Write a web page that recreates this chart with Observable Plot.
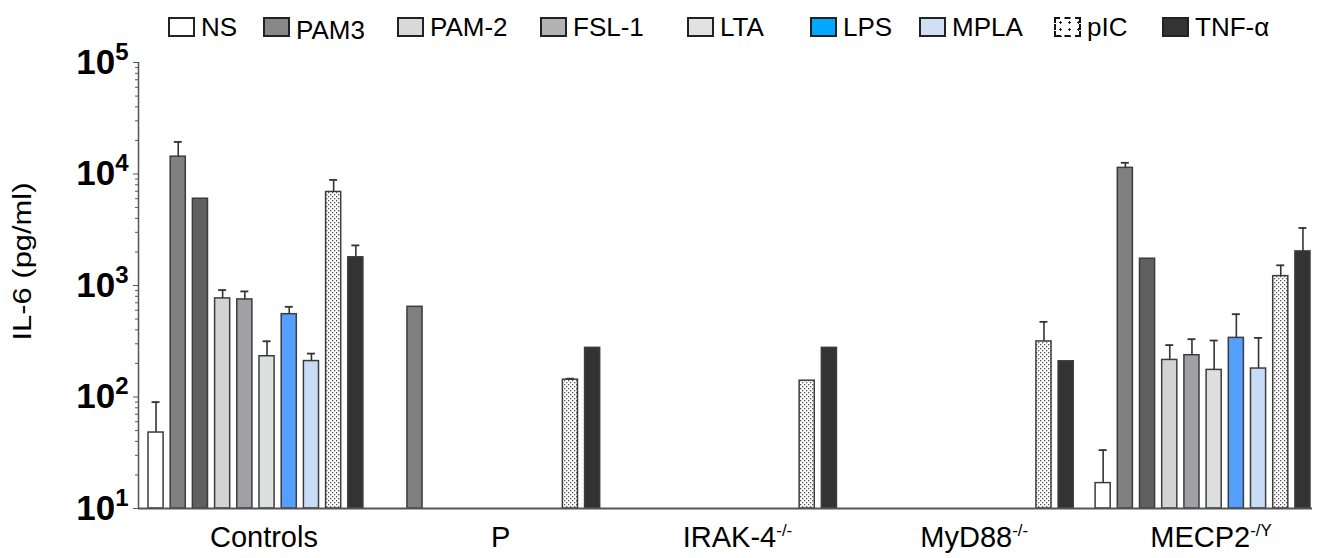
<!DOCTYPE html>
<html><head><meta charset="utf-8">
<script src="https://cdn.jsdelivr.net/npm/d3@7"></script>
<script src="https://cdn.jsdelivr.net/npm/@observablehq/plot@0.6"></script>
<style>
html,body{margin:0;padding:0;background:#fff;}
body{width:1326px;height:558px;overflow:hidden;font-family:"Liberation Sans",Arial,sans-serif;}
#legend{position:relative;height:32px;width:1326px;z-index:1;}
.sw{position:absolute;top:17px;width:27px;height:20px;box-sizing:border-box;border:2px solid #222;}
.lab{position:absolute;top:13px;font-size:26px;line-height:28px;color:#000;white-space:nowrap;}
#chart svg{display:block;}
</style></head>
<body>
<div id="legend"></div>
<div id="chart"></div>
<script>
// ---------- data ----------
const groups = ["Controls", "P", "IRAK-4^-/-", "MyD88^-/-", "MECP2^-/Y"];
const series = ["NS", "PAM3", "(unlabelled)", "PAM-2", "FSL-1", "LTA", "LPS", "MPLA", "pIC", "TNF-α"];
const legendSeries = ["NS", "PAM3", "PAM-2", "FSL-1", "LTA", "LPS", "MPLA", "pIC", "TNF-α"];

const controlsMean = [48, 14300, 6000, 766, 750, 232, 553, 210, 6900, 1790];
const controlsErr  = [90, 19400, null, 910, 885, 316, 644, 245, 8850, 2290];
const pMean        = [null, 644, null, null, null, null, null, null, 143, 276];
const pErr         = [null, null, null, null, null, null, null, null, 146, null];
const irakMean     = [null, null, null, null, null, null, null, null, 140, 276];
const irakErr      = [null, null, null, null, null, null, null, null, null, null];
const myd88Mean    = [null, null, null, null, null, null, null, null, 315, 209];
const myd88Err     = [null, null, null, null, null, null, null, null, 472, null];
const mecp2Mean    = [16.9, 11350, 1738, 215, 237, 175, 339, 180, 1213, 2022];
const mecp2Err     = [33.4, 12600, null, 292, 330, 321, 553, 339, 1517, 3280];

const yTicks = [10, 100, 1000, 10000, 100000];
const yLabel = "IL-6 (pg/ml)";

// ---------- styling / layout ----------
const barFill = {
  "NS": "#ffffff", "PAM3": "#808080", "(unlabelled)": "#606060", "PAM-2": "#d3d3d3",
  "FSL-1": "#a1a1a5", "LTA": "#dde0df", "LPS": "#55a0ff", "MPLA": "#c8dcf8",
  "pIC": "url(#dots)", "TNF-α": "#333333"
};
const legendFill = {
  "NS": "#ffffff", "PAM3": "#888888", "PAM-2": "#d9d9d9", "FSL-1": "#b3b3b3",
  "LTA": "#e2e2e2", "LPS": "#00a8ff", "MPLA": "#cfe0f2", "pIC": "#ffffff", "TNF-α": "#333333"
};
const legendLeft = [168, 263, 397, 540, 687, 810, 919, 1054, 1162];
const stride = 10.665, barW = 0.68;

const means = [controlsMean, pMean, irakMean, myd88Mean, mecp2Mean];
const errs = [controlsErr, pErr, irakErr, myd88Err, mecp2Err];
const rows = [];
groups.forEach((g, gi) => series.forEach((s, si) => {
  const m = means[gi][si];
  if (m != null) rows.push({group: g, series: s, gi, si, mean: m, err: errs[gi][si]});
}));
const slot = d => d.gi * stride + d.si;
const errRows = rows.filter(d => d.err != null);
const groupCenters = groups.map((g, i) => i * stride + (series.length - 1 + barW) / 2);
const minorTicks = [];
for (let e = 1; e < 5; e++) for (let k = 2; k <= 9; k++) minorTicks.push(k * 10 ** e);

// ---------- legend ----------
const leg = d3.select("#legend");
legendSeries.forEach((s, i) => {
  const sw = leg.append("div").attr("class", "sw")
    .style("left", legendLeft[i] + "px")
    .style("background", legendFill[s]);
  if (s === "pIC") {
    sw.style("border", "2px dashed #111")
      .style("background", "radial-gradient(circle, #222 1px, transparent 1.4px) 0 0/9px 7px, #fff");
  }
  leg.append("div").attr("class", "lab")
    .style("left", (legendLeft[i] + 33) + "px")
    .style("top", s === "PAM3" ? "16px" : "13px")
    .text(s);
});

// ---------- chart ----------
const svg = Plot.plot({
  width: 1326, height: 526,
  marginTop: 30, marginBottom: 50, marginLeft: 138, marginRight: 14,
  style: {fontFamily: "'Liberation Sans', Arial, sans-serif", color: "#000", background: "transparent"},
  x: {domain: [-0.45, 52.43], axis: null},
  y: {type: "log", domain: [10, 1e5], axis: null},
  color: {domain: series, range: series.map(s => barFill[s])},
  marks: [
    Plot.rect(rows, {x1: d => slot(d), x2: d => slot(d) + barW, y1: 10, y2: "mean",
      fill: "series", stroke: "#3c3c3c", strokeWidth: 1.5}),
    Plot.ruleX(errRows, {x: d => slot(d) + barW / 2, y1: "mean", y2: "err", stroke: "#333", strokeWidth: 1.6}),
    Plot.ruleY(errRows, {y: "err", x1: d => slot(d) + barW / 2 - 0.18, x2: d => slot(d) + barW / 2 + 0.18,
      stroke: "#333", strokeWidth: 1.8}),
    Plot.axisY(minorTicks, {tickSize: 3, tickFormat: () => "", stroke: "#555", label: null}),
    Plot.axisY(yTicks, {tickSize: 5, tickPadding: 5, stroke: "#555", label: null,
      tickFormat: d => "10^" + Math.round(Math.log10(d)), fontSize: 35, fontWeight: "bold"}),
    Plot.ruleX([-0.45], {stroke: "#555", strokeWidth: 1.5}),
    Plot.ruleY([10], {stroke: "#555", strokeWidth: 2}),
    Plot.axisX(groupCenters, {tickSize: 0, tickPadding: 18, label: null, fontSize: 29, dx: 8,
      tickFormat: d => groups[Math.round((d - groupCenters[0]) / stride)]}),
    Plot.text([yLabel], {frameAnchor: "left", dx: -116, dy: 55, rotate: -90, fontSize: 25,
      textAnchor: "start", text: d => d})
  ]
});
svg.style.marginTop = "0px";

// pattern for pIC bars
const defs = d3.select(svg).insert("defs", ":first-child");
const pat = defs.append("pattern").attr("id", "dots").attr("width", 4).attr("height", 4)
  .attr("patternUnits", "userSpaceOnUse");
pat.append("rect").attr("width", 4).attr("height", 4).attr("fill", "#fff");
pat.append("rect").attr("x", 0).attr("y", 0).attr("width", 1.3).attr("height", 1.3).attr("fill", "#555");
pat.append("rect").attr("x", 2).attr("y", 2).attr("width", 1.3).attr("height", 1.3).attr("fill", "#555");

// superscripts
d3.select(svg).selectAll("text").each(function() {
  const t = this.textContent;
  if (t.includes("^")) {
    const [a, b] = t.split("^");
    const sel = d3.select(this);
    sel.text(null);
    sel.append("tspan").text(a);
    if (a === "10") sel.append("tspan").attr("dy", "-14").attr("font-size", "24").text(b);
    else sel.append("tspan").attr("dy", "-11").attr("font-size", "17").text(b);
  }
  if (t === yLabel) {
    d3.select(this).attr("textLength", 158).attr("lengthAdjust", "spacingAndGlyphs");
  }
});

document.getElementById("chart").appendChild(svg);
</script>
</body></html>
